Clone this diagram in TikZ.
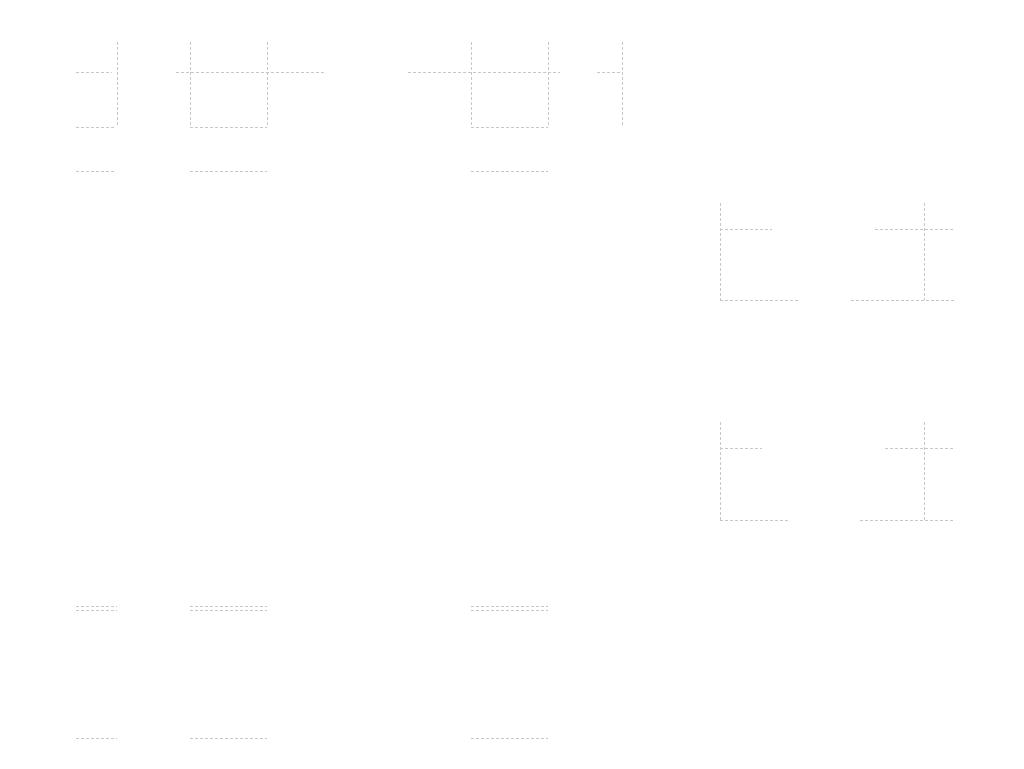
\documentclass[tikz,border=0pt]{standalone}
\begin{document}
\begin{tikzpicture}[x=1pt,y=-1pt,faint/.style={draw=black!22,dashed,dash pattern=on 3pt off 2pt,line width=0.8pt}]
\useasboundingbox (0,0) rectangle (1024,768);
% top verticals
\foreach \x in {117,190,267,471,548,622} \draw[faint] (\x,42) -- (\x,127);
% top horizontals
\draw[faint] (76,72) -- (112,72);
\draw[faint] (176,72) -- (326,72);
\draw[faint] (408,72) -- (560,72);
\draw[faint] (597,72) -- (622,72);
\foreach \y in {127,171} {
  \draw[faint] (76,\y) -- (115,\y);
  \draw[faint] (190,\y) -- (267,\y);
  \draw[faint] (471,\y) -- (548,\y);
}
% right boxes
\foreach \x in {720,924} {\draw[faint] (\x,203) -- (\x,300); \draw[faint] (\x,422) -- (\x,520);}
\draw[faint] (720,229) -- (772,229); \draw[faint] (875,229) -- (955,229);
\draw[faint] (720,300) -- (798,300); \draw[faint] (851,300) -- (955,300);
\draw[faint] (720,448) -- (762,448); \draw[faint] (885,448) -- (955,448);
\draw[faint] (720,520) -- (790,520); \draw[faint] (860,520) -- (955,520);
% bottom
\foreach \y in {606,610,738} {
  \draw[faint] (76,\y) -- (117,\y);
  \draw[faint] (190,\y) -- (267,\y);
  \draw[faint] (471,\y) -- (548,\y);
}
\end{tikzpicture}
\end{document}
